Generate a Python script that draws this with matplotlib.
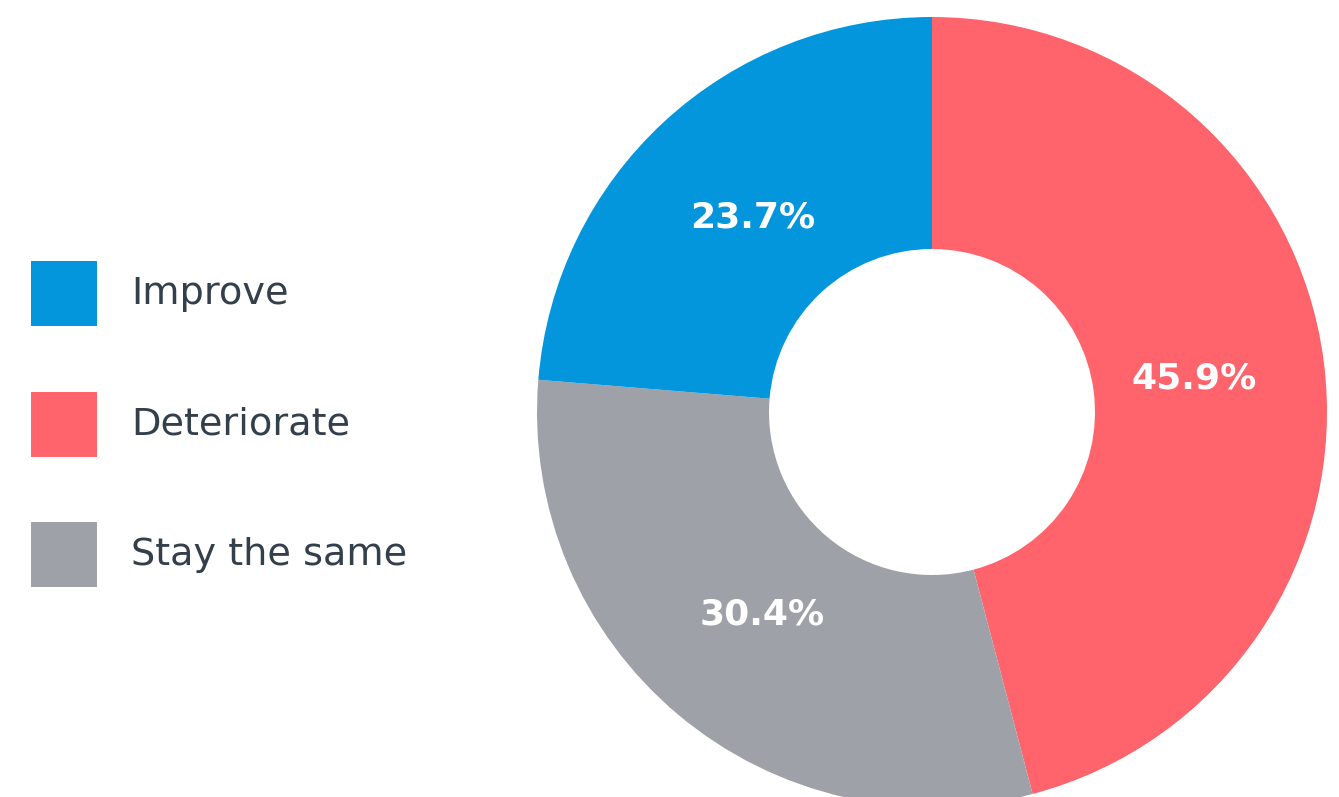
import matplotlib
matplotlib.use("Agg")
import matplotlib.pyplot as plt
from matplotlib.patches import Rectangle

plt.rcParams["font.family"] = ["DejaVu Sans"]

# answer shares in percent
categories = ["Improve", "Deteriorate", "Stay the same"]
shares = [23.7, 45.9, 30.4]
colors = ["#0396DD", "#FF636B", "#9EA1A7"]

# pie order: clockwise from 12 o'clock
pie_order = [1, 2, 0]

W, H = 1339, 797
fig = plt.figure(figsize=(W / 100, H / 100), dpi=100)
ax = fig.add_axes([0, 0, 1, 1])

cx, cy, r_out, r_in = 932, H - 412, 395, 163
wedges, texts, autotexts = ax.pie(
    [shares[i] for i in pie_order],
    colors=[colors[i] for i in pie_order],
    startangle=90,
    counterclock=False,
    center=(cx, cy),
    radius=r_out,
    autopct="%.1f%%",
    pctdistance=0.67,
    wedgeprops=dict(width=r_out - r_in, linewidth=0),
    textprops=dict(color="white", fontsize=26, fontweight="bold"),
    frame=True,
)
ax.set_xlim(0, W)
ax.set_ylim(0, H)
ax.set_aspect("equal")
ax.axis("off")

# legend boxes on the left
for k, name in enumerate(categories):
    top = 261 + k * 130.5
    ax.add_patch(Rectangle((31, H - top - 65), 66, 65, color=colors[k], lw=0))
    ax.text(131, H - top - 33, name, fontsize=27.5, color="#333F4B",
            va="center", ha="left")

fig.savefig("out.png", dpi=100)
